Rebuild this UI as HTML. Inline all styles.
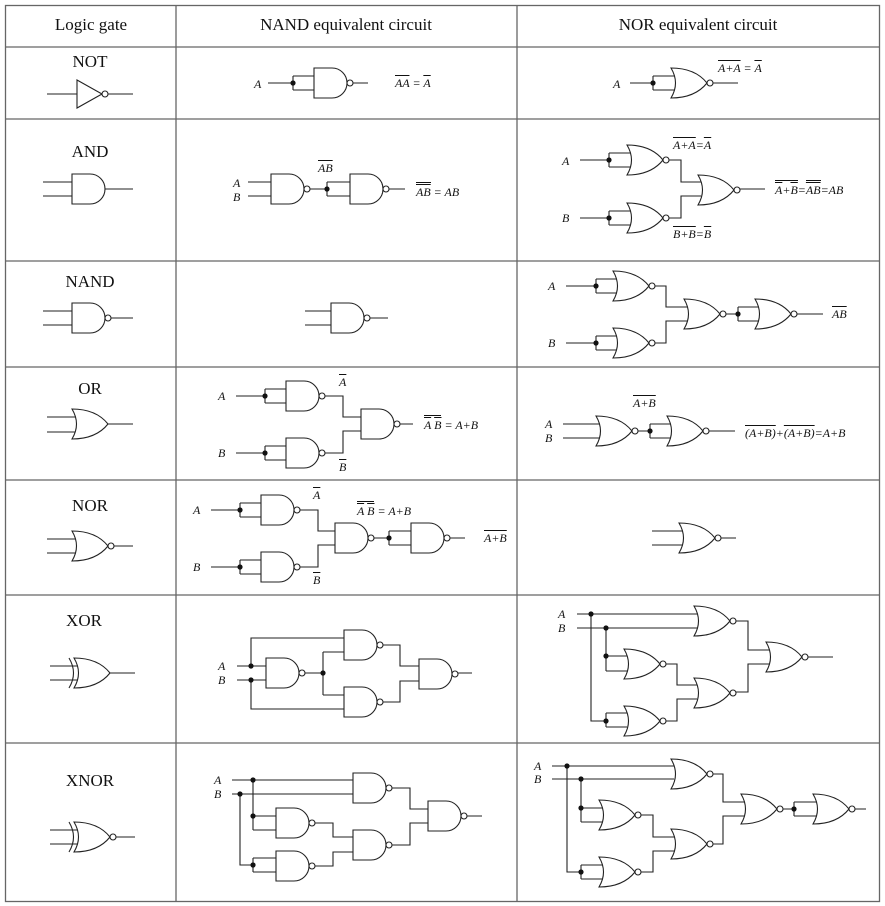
<!DOCTYPE html>
<html><head><meta charset="utf-8"><style>
body{margin:0;background:#fff;width:885px;height:906px;overflow:hidden;position:relative;font-family:"Liberation Serif",serif}
svg{position:absolute;left:0;top:0}
.t{position:absolute;font-size:17px;color:#111;white-space:nowrap;transform:translateX(-50%)}
.l{position:absolute;font-size:12px;font-style:italic;color:#111;white-space:nowrap;line-height:12px}
.o{text-decoration:overline}
.d{border-top:1px solid #111;padding-top:2px}
</style></head><body>
<svg width="885" height="906" viewBox="0 0 885 906">
<defs>
<g id="and"><path d="M0,0H18A15,15 0 0 1 18,30H0Z"/></g>
<g id="nand"><path d="M0,0H18A15,15 0 0 1 18,30H0Z"/><circle cx="36" cy="15" r="3" fill="#fff"/></g>
<g id="or"><path d="M0,0Q9,15 0,30Q24,30 36,15Q24,0 0,0Z"/></g>
<g id="nor"><path d="M0,0Q9,15 0,30Q24,30 36,15Q24,0 0,0Z"/><circle cx="39" cy="15" r="3" fill="#fff"/></g>
</defs>
<g stroke="#666" stroke-width="1.3" fill="none">
<rect x="5.5" y="5.5" width="874" height="896"/>
<path d="M176,5V902M517,5V902M5,47H880M5,119H880M5,261H880M5,367H880M5,480H880M5,595H880M5,743H880"/>
</g>
<g stroke="#222" stroke-width="1.1" fill="#fff">
<path d="M77,80L102,94L77,108Z"/><circle cx="105" cy="94" r="3"/>
<path d="M47,94H77M108,94H133" fill="none"/>
<use href="#and" x="72" y="174"/><path d="M43,182H72M43,196H72M105,189H133" fill="none"/>
<use href="#nand" x="72" y="303"/><path d="M43,311H72M43,325H72M111,318H133" fill="none"/>
<use href="#or" x="72" y="409"/><path d="M47,417H75M47,432H75M108,424H133" fill="none"/>
<use href="#nor" x="72" y="531"/><path d="M47,539H75M47,553H75M114,546H133" fill="none"/>
<use href="#or" x="74" y="658"/><path d="M69,658Q78,673 69,688M50,666H77M50,680H77M110,673H135" fill="none"/>
<use href="#nor" x="74" y="822"/><path d="M69,822Q78,837 69,852M50,830H77M50,844H77M116,837H135" fill="none"/>

<use href="#nand" x="314" y="68"/><path d="M268,83H293M293,76V90M293,76H314M293,90H314M353,83H368" fill="none"/>
<use href="#nand" x="271" y="174"/><use href="#nand" x="350" y="174"/>
<path d="M248,182H271M248,196H271M310,189H327M327,182V196M327,182H350M327,196H350M389,189H405" fill="none"/>
<use href="#nand" x="331" y="303"/><path d="M305,311H331M305,325H331M370,318H388" fill="none"/>
<use href="#nand" x="286" y="381"/><use href="#nand" x="286" y="438"/><use href="#nand" x="361" y="409"/>
<path d="M236,396H265M265,389V403M265,389H286M265,403H286M236,453H265M265,446V460M265,446H286M265,460H286M325,396H343V417H361M325,453H343V431H361M400,424H413" fill="none"/>
<use href="#nand" x="261" y="495"/><use href="#nand" x="261" y="552"/><use href="#nand" x="335" y="523"/><use href="#nand" x="411" y="523"/>
<path d="M211,510H240M240,503V517M240,503H261M240,517H261M211,567H240M240,560V574M240,560H261M240,574H261M300,510H318V531H335M300,567H318V545H335M374,538H389M389,531V545M389,531H411M389,545H411M450,538H465" fill="none"/>
<use href="#nand" x="266" y="658"/><use href="#nand" x="344" y="630"/><use href="#nand" x="344" y="687"/><use href="#nand" x="419" y="659"/>
<path d="M237,666H266M237,680H266M251,666V638H344M251,680V709H344M305,673H323M323,652V695M323,652H344M323,695H344M383,645H400V666H419M383,702H400V681H419M458,673H472" fill="none"/>
<use href="#nand" x="353" y="773"/><use href="#nand" x="276" y="808"/><use href="#nand" x="276" y="851"/><use href="#nand" x="353" y="830"/><use href="#nand" x="428" y="801"/>
<path d="M232,780H353M232,794H353M253,780V830M253,816H276M253,830H276M240,794V865H253M253,858V872M253,858H276M253,872H276M315,823H333V837H353M315,866H333V852H353M392,788H410V809H428M392,845H410V823H428M467,816H482" fill="none"/>

<use href="#nor" x="671" y="68"/><path d="M630,83H653M653,76V90M653,76H674M653,90H674M713,83H738" fill="none"/>
<use href="#nor" x="627" y="145"/><use href="#nor" x="627" y="203"/><use href="#nor" x="698" y="175"/>
<path d="M580,160H609M609,153V167M609,153H630M609,167H630M580,218H609M609,211V225M609,211H630M609,225H630M669,160H681V182H701M669,218H681V196H701M740,189H765" fill="none"/>
<use href="#nor" x="613" y="271"/><use href="#nor" x="613" y="328"/><use href="#nor" x="684" y="299"/><use href="#nor" x="755" y="299"/>
<path d="M566,286H596M596,279V293M596,279H616M596,293H616M566,343H596M596,336V350M596,336H616M596,350H616M655,286H666V307H687M655,343H666V321H687M726,314H738M738,307V321M738,307H758M738,321H758M797,314H823" fill="none"/>
<use href="#nor" x="596" y="416"/><use href="#nor" x="667" y="416"/>
<path d="M563,424H599M563,438H599M638,431H650M650,424V438M650,424H670M650,438H670M709,431H735" fill="none"/>
<use href="#nor" x="679" y="523"/><path d="M652,531H682M652,545H682M721,538H736" fill="none"/>
<use href="#nor" x="694" y="606"/><use href="#nor" x="624" y="649"/><use href="#nor" x="624" y="706"/><use href="#nor" x="694" y="678"/><use href="#nor" x="766" y="642"/>
<path d="M577,614H697M577,628H697M591,614V721H606M606,628V671M606,656H627M606,671H627M606,713V727M606,713H627M606,727H627M666,664H677V685H697M666,721H677V699H697M736,621H748V650H769M736,692H748V664H769M808,657H833" fill="none"/>
<use href="#nor" x="671" y="759"/><use href="#nor" x="599" y="800"/><use href="#nor" x="599" y="857"/><use href="#nor" x="671" y="829"/><use href="#nor" x="741" y="794"/><use href="#nor" x="813" y="794"/>
<path d="M552,766H674M552,779H674M567,766V872H581M581,779V822M581,808H602M581,822H602M581,865V879M581,865H602M581,879H602M641,815H653V837H674M641,872H653V851H674M713,774H723V802H744M713,844H723V816H744M783,809H794M794,802V816M794,802H816M794,816H816M855,809H866" fill="none"/>
</g>
<g fill="#111">
<circle cx="293" cy="83" r="2.6"/><circle cx="327" cy="189" r="2.6"/>
<circle cx="265" cy="396" r="2.6"/><circle cx="265" cy="453" r="2.6"/>
<circle cx="240" cy="510" r="2.6"/><circle cx="240" cy="567" r="2.6"/><circle cx="389" cy="538" r="2.6"/>
<circle cx="251" cy="666" r="2.6"/><circle cx="251" cy="680" r="2.6"/><circle cx="323" cy="673" r="2.6"/>
<circle cx="253" cy="780" r="2.6"/><circle cx="240" cy="794" r="2.6"/><circle cx="253" cy="816" r="2.6"/><circle cx="253" cy="865" r="2.6"/>
<circle cx="653" cy="83" r="2.6"/><circle cx="609" cy="160" r="2.6"/><circle cx="609" cy="218" r="2.6"/>
<circle cx="596" cy="286" r="2.6"/><circle cx="596" cy="343" r="2.6"/><circle cx="738" cy="314" r="2.6"/>
<circle cx="650" cy="431" r="2.6"/>
<circle cx="591" cy="614" r="2.6"/><circle cx="606" cy="628" r="2.6"/><circle cx="606" cy="656" r="2.6"/><circle cx="606" cy="721" r="2.6"/>
<circle cx="567" cy="766" r="2.6"/><circle cx="581" cy="779" r="2.6"/><circle cx="581" cy="808" r="2.6"/><circle cx="581" cy="872" r="2.6"/><circle cx="794" cy="809" r="2.6"/>
</g>
</svg>
<div class="t" style="left:91px;top:15px">Logic gate</div>
<div class="t" style="left:346px;top:15px">NAND equivalent circuit</div>
<div class="t" style="left:698px;top:15px">NOR equivalent circuit</div>
<div class="t" style="left:90px;top:52px">NOT</div>
<div class="t" style="left:90px;top:142px">AND</div>
<div class="t" style="left:90px;top:272px">NAND</div>
<div class="t" style="left:90px;top:379px">OR</div>
<div class="t" style="left:90px;top:496px">NOR</div>
<div class="t" style="left:84px;top:611px">XOR</div>
<div class="t" style="left:90px;top:771px">XNOR</div>

<div class="l" style="left:254px;top:78px">A</div>
<div class="l" style="left:395px;top:77px"><span class="o">AA</span> = <span class="o">A</span></div>
<div class="l" style="left:233px;top:177px">A</div><div class="l" style="left:233px;top:191px">B</div>
<div class="l" style="left:318px;top:162px"><span class="o">AB</span></div>
<div class="l" style="left:416px;top:186px"><span class="d"><span class="o">AB</span></span> = AB</div>
<div class="l" style="left:218px;top:390px">A</div><div class="l" style="left:218px;top:447px">B</div>
<div class="l" style="left:339px;top:376px"><span class="o">A</span></div>
<div class="l" style="left:339px;top:461px"><span class="o">B</span></div>
<div class="l" style="left:424px;top:419px"><span class="d"><span class="o">A</span> <span class="o">B</span></span> = A+B</div>
<div class="l" style="left:193px;top:504px">A</div><div class="l" style="left:193px;top:561px">B</div>
<div class="l" style="left:313px;top:489px"><span class="o">A</span></div>
<div class="l" style="left:313px;top:574px"><span class="o">B</span></div>
<div class="l" style="left:357px;top:505px"><span class="d"><span class="o">A</span> <span class="o">B</span></span> = A+B</div>
<div class="l" style="left:484px;top:532px"><span class="o">A+B</span></div>
<div class="l" style="left:218px;top:660px">A</div><div class="l" style="left:218px;top:674px">B</div>
<div class="l" style="left:214px;top:774px">A</div><div class="l" style="left:214px;top:788px">B</div>

<div class="l" style="left:613px;top:78px">A</div>
<div class="l" style="left:718px;top:62px"><span class="o">A+A</span> = <span class="o">A</span></div>
<div class="l" style="left:562px;top:155px">A</div><div class="l" style="left:562px;top:212px">B</div>
<div class="l" style="left:673px;top:139px"><span class="o">A+A</span>=<span class="o">A</span></div>
<div class="l" style="left:673px;top:228px"><span class="o">B+B</span>=<span class="o">B</span></div>
<div class="l" style="left:775px;top:184px"><span class="d"><span class="o">A</span>+<span class="o">B</span></span>=<span class="d"><span class="o">AB</span></span>=AB</div>
<div class="l" style="left:548px;top:280px">A</div><div class="l" style="left:548px;top:337px">B</div>
<div class="l" style="left:832px;top:308px"><span class="o">AB</span></div>
<div class="l" style="left:633px;top:397px"><span class="o">A+B</span></div>
<div class="l" style="left:545px;top:418px">A</div><div class="l" style="left:545px;top:432px">B</div>
<div class="l" style="left:745px;top:427px"><span class="o">(A+B)</span>+<span class="o">(A+B)</span>=A+B</div>
<div class="l" style="left:558px;top:608px">A</div><div class="l" style="left:558px;top:622px">B</div>
<div class="l" style="left:534px;top:760px">A</div><div class="l" style="left:534px;top:773px">B</div>
</body></html>
